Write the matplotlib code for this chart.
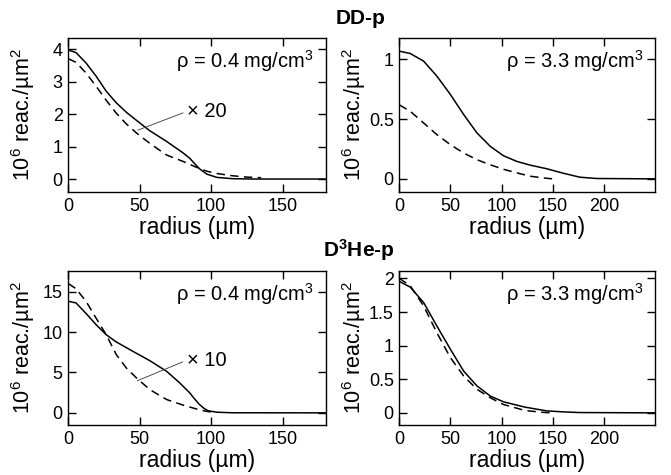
import numpy as np
import matplotlib
matplotlib.use("Agg")
import matplotlib.pyplot as plt
from matplotlib.ticker import FuncFormatter

plt.rcParams.update({
    "font.family": ["Liberation Sans", "DejaVu Sans"],
    "mathtext.fontset": "custom",
    "mathtext.rm": "Liberation Sans",
    "mathtext.it": "Liberation Sans:italic",
    "mathtext.bf": "Liberation Sans:bold",
})

# DD-p, rho = 0.4 mg/cm3 (x20)
dd_lo_r_solid = [0, 5.4, 12.4, 19.5, 26.5, 33.6, 40.6, 47.7, 57, 68.8, 80.5, 85, 88.7,
                 92, 97, 104, 115, 130, 180]
dd_lo_solid = [3.98, 3.9, 3.58, 3.17, 2.71, 2.35, 2.06, 1.81, 1.49, 1.16, 0.80, 0.64,
               0.46, 0.31, 0.15, 0.05, 0.01, 0.0, 0.0]
dd_lo_r_dash = [0, 5.4, 12.4, 19.5, 26.5, 33.6, 40.6, 47.7, 57, 68.8, 80.5, 88.7, 97,
                104, 115, 125, 135]
dd_lo_dash = [3.71, 3.6, 3.27, 2.86, 2.43, 2.03, 1.70, 1.42, 1.1, 0.74, 0.54, 0.38,
              0.24, 0.17, 0.10, 0.06, 0.04]

# DD-p, rho = 3.3 mg/cm3
dd_hi_r_solid = [0, 10.7, 23.8, 36.8, 50, 63, 76, 89, 102, 115, 128, 144, 160, 176.5,
                 193, 250]
dd_hi_solid = [1.07, 1.05, 0.986, 0.86, 0.706, 0.538, 0.384, 0.272, 0.193, 0.146,
               0.115, 0.085, 0.048, 0.014, 0.003, 0.0]
dd_hi_r_dash = [0, 10.7, 23.8, 36.8, 50, 63, 76, 89, 102, 115, 128, 144, 150]
dd_hi_dash = [0.62, 0.566, 0.468, 0.37, 0.286, 0.216, 0.16, 0.118, 0.08, 0.05, 0.022,
              0.005, 0.0]

# D3He-p, rho = 0.4 mg/cm3 (x10)
he_lo_r_solid = [0, 5.4, 12.4, 19.5, 26.5, 33.6, 45.3, 57, 68.8, 78, 85, 88.7, 92, 95,
                 98, 104, 115, 180]
he_lo_solid = [13.8, 13.6, 12.3, 10.9, 9.67, 8.77, 7.6, 6.46, 5.14, 3.7, 2.47, 1.65,
               1.0, 0.55, 0.25, 0.08, 0.01, 0.0]
he_lo_r_dash = [0, 5.4, 12.4, 19.5, 26.5, 33.6, 40.6, 47.7, 57, 68.8, 80.5, 88.7, 95,
                100]
he_lo_dash = [16.0, 15.35, 13.8, 11.7, 9.67, 7.2, 5.55, 4.32, 2.88, 1.65, 0.95, 0.53,
              0.25, 0.1]

# D3He-p, rho = 3.3 mg/cm3
he_hi_r_solid = [0, 10.7, 23.8, 36.8, 50, 63, 76, 89, 102, 123, 144, 160, 176, 250]
he_hi_solid = [1.955, 1.87, 1.64, 1.29, 0.945, 0.62, 0.40, 0.25, 0.164, 0.085, 0.03,
               0.015, 0.005, 0.0]
he_hi_r_dash = [0, 10.7, 23.8, 36.8, 50, 63, 76, 89, 102, 123, 140, 150]
he_hi_dash = [2.0, 1.89, 1.59, 1.19, 0.82, 0.547, 0.35, 0.224, 0.124, 0.035, 0.008, 0.0]

panels = [
    dict(rect=[0.1018, 0.5958, 0.3833, 0.3242], xlim=(0, 180), ylim=(-0.4, 4.35),
         xticks=[0, 50, 100, 150], yticks=[0, 1, 2, 3, 4],
         solid=(dd_lo_r_solid, dd_lo_solid), dash=(dd_lo_r_dash, dd_lo_dash),
         rho="0.4", factor=("20", (48.8, 1.51), (80.3, 2.04), (83, 2.07))),
    dict(rect=[0.5951, 0.5958, 0.3810, 0.3242], xlim=(0, 250), ylim=(-0.11, 1.18),
         xticks=[0, 50, 100, 150, 200], yticks=[0, 0.5, 1],
         solid=(dd_hi_r_solid, dd_hi_solid), dash=(dd_hi_r_dash, dd_hi_dash),
         rho="3.3", factor=None),
    dict(rect=[0.1018, 0.1053, 0.3833, 0.3242], xlim=(0, 180), ylim=(-1.5, 17.55),
         xticks=[0, 50, 100, 150], yticks=[0, 5, 10, 15],
         solid=(he_lo_r_solid, he_lo_solid), dash=(he_lo_r_dash, he_lo_dash),
         rho="0.4", factor=("10", (48.3, 3.97), (80, 6.3), (83, 6.5))),
    dict(rect=[0.5951, 0.1053, 0.3810, 0.3242], xlim=(0, 250), ylim=(-0.18, 2.11),
         xticks=[0, 50, 100, 150, 200], yticks=[0, 0.5, 1, 1.5, 2],
         solid=(he_hi_r_solid, he_hi_solid), dash=(he_hi_r_dash, he_hi_dash),
         rho="3.3", factor=None),
]

fig = plt.figure(figsize=(6.71, 4.75), dpi=100)

for p in panels:
    ax = fig.add_axes(p["rect"])
    ax.plot(*p["solid"], color="black", lw=1.1)
    ax.plot(*p["dash"], color="black", lw=1.1, dashes=(5.5, 3.5))
    ax.set_xlim(p["xlim"])
    ax.set_ylim(p["ylim"])
    ax.set_xticks(p["xticks"])
    ax.set_yticks(p["yticks"])
    ax.yaxis.set_major_formatter(FuncFormatter(lambda v, _: f"{v:g}"))
    ax.tick_params(direction="in", top=True, right=True, length=6, width=1.0,
                   labelsize=13, pad=4)
    for s in ax.spines.values():
        s.set_linewidth(1.0)
    ax.set_xlabel("radius (µm)", fontsize=16.5, labelpad=1)
    ax.set_ylabel(r"$\mathregular{10^6}$ reac./µm$^\mathregular{2}$", fontsize=15.5)
    ax.yaxis.set_label_coords(-0.122, 0.5)
    ax.text(0.955, 0.85, rf"ρ = {p['rho']} mg/cm$^\mathregular{{3}}$",
            transform=ax.transAxes, ha="right", va="center", fontsize=14.5)
    if p["factor"] is not None:
        f, start, end, tpos = p["factor"]
        ax.plot([start[0], end[0]], [start[1], end[1]], color="#333333", lw=0.6)
        ax.text(tpos[0], tpos[1], f"× {f}", ha="left", va="center", fontsize=14.5)

fig.text(361 / 671, 1 - 18 / 475, "DD-p", ha="center", va="center",
         fontsize=15, fontweight="bold")
fig.text(359 / 671, 1 - 250 / 475, r"D$^\mathbf{3}$He-p", ha="center", va="center",
         fontsize=15, fontweight="bold")

fig.savefig("out.png", dpi=100)
